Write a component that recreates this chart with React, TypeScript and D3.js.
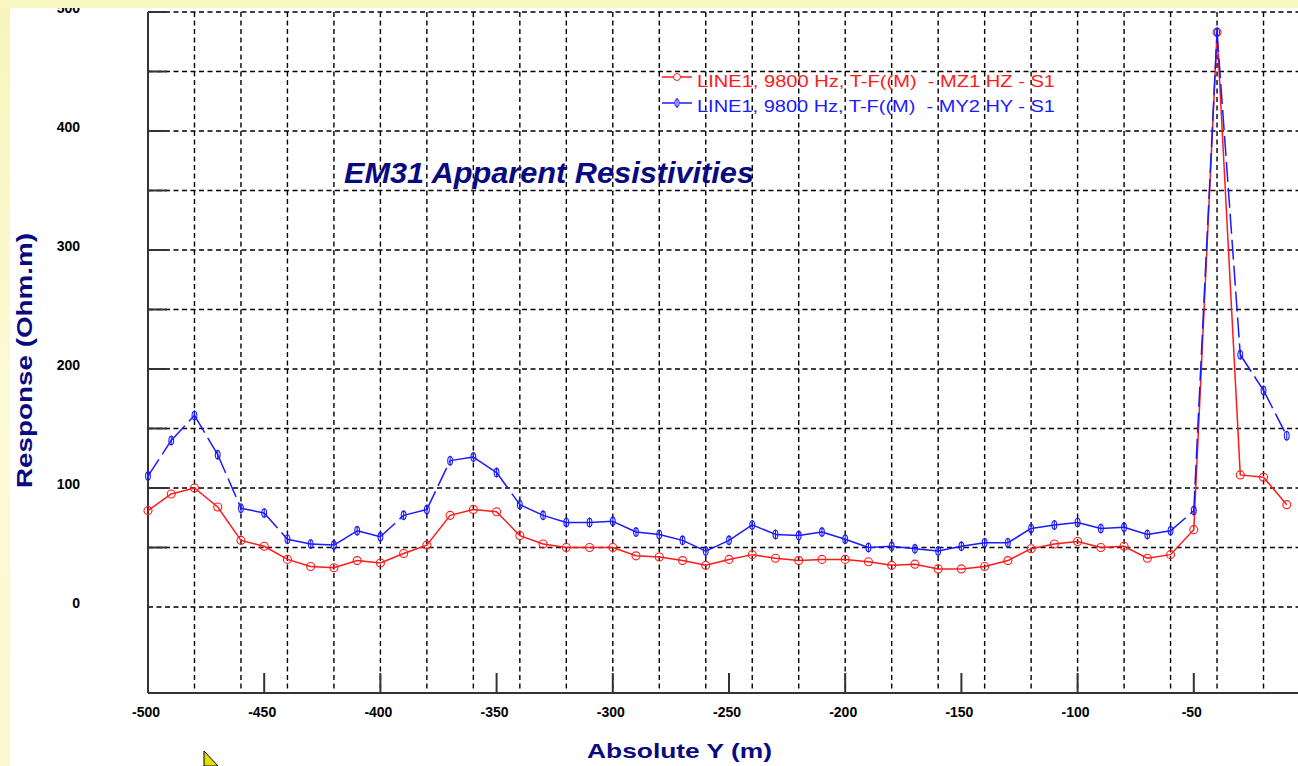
import React from 'react';
import * as d3 from 'd3';

const xValues = [-500, -490, -480, -470, -460, -450, -440, -430, -420, -410, -400, -390, -380, -370, -360, -350, -340, -330, -320, -310, -300, -290, -280, -270, -260, -250, -240, -230, -220, -210, -200, -190, -180, -170, -160, -150, -140, -130, -120, -110, -100, -90, -80, -70, -60, -50, -40, -30, -20, -10];
const mz1Values = [81, 95, 100, 84, 56, 51, 40, 34, 33, 39, 37, 45, 52, 77, 82, 80, 60, 53, 50, 50, 50, 43, 42, 39, 35, 40, 44, 41, 39, 40, 40, 38, 35, 36, 32, 32, 34, 39, 49, 53, 55, 50, 51, 41, 44, 65, 483, 111, 109, 86];
const my2Values = [110, 140, 161, 128, 83, 79, 57, 53, 52, 64, 59, 77, 82, 123, 126, 113, 86, 77, 71, 71, 72, 63, 61, 56, 47, 56, 69, 61, 60, 63, 57, 50, 51, 49, 47, 51, 54, 54, 66, 69, 71, 66, 67, 61, 64, 81, 483, 212, 182, 144];
const xTickLabels = [-500, -450, -400, -350, -300, -250, -200, -150, -100, -50];
const yTickLabels = [0, 100, 200, 300, 400, 500];
const legendLabels = ['LINE1, 9800 Hz, T-F((M)  - MZ1 HZ - S1', 'LINE1, 9800 Hz, T-F((M)  - MY2 HY - S1'];
const titleText = 'EM31 Apparent Resistivities';
const xTitle = 'Absolute Y (m)';
const yTitle = 'Response (Ohm.m)';

const RED = '#ff1a1a';
const BLUE = '#1a1aff';
const NAVY = '#0a0a80';

export default function App() {
  const W = 1298, H = 766;
  const plotLeft = 148, plotBottom = 693, plotTop = 12;
  const x = d3.scaleLinear().domain([-500, 0]).range([148, 1310]);
  const y = d3.scaleLinear().domain([0, 500]).range([607, 12]);

  const vGrid = x.ticks(20).filter(v => v > -500);
  const hGrid = y.ticks(10);

  const redPts = xValues.map((xv, i) => [x(xv), y(mz1Values[i])] as [number, number]);
  const bluePts = xValues.map((xv, i) => [x(xv), y(my2Values[i])] as [number, number]);
  const line = d3.line<[number, number]>();

  const font = 'Arial, "Liberation Sans", sans-serif';

  return (
    <svg width={W} height={H} style={{ position: 'absolute', left: 0, top: 0, background: '#fff' }}>
      <defs>
        <linearGradient id="strip" x1="0" y1="0" x2="0" y2="1">
          <stop offset="0" stopColor="#f8f5bb" />
          <stop offset="0.5" stopColor="#fbfad6" />
          <stop offset="1" stopColor="#fbf9cf" />
        </linearGradient>
      </defs>
      <rect x={0} y={0} width={W} height={H} fill="#fff" />

      {/* grid */}
      {hGrid.map(v => (
        <line key={'h' + v} x1={plotLeft} x2={W} y1={y(v)} y2={y(v)} stroke="#000" strokeWidth={1.4} strokeDasharray="5,3.5" />
      ))}
      {vGrid.map(v => (
        <line key={'v' + v} x1={x(v)} x2={x(v)} y1={plotTop} y2={plotBottom} stroke="#000" strokeWidth={1.4} strokeDasharray="5,3.5" />
      ))}

      {/* axes */}
      <line x1={plotLeft} x2={plotLeft} y1={plotTop} y2={plotBottom} stroke="#333" strokeWidth={2} />
      <line x1={plotLeft} x2={W} y1={plotBottom} y2={plotBottom} stroke="#333" strokeWidth={2} />
      {hGrid.filter(v => v > 0).map(v => (
        <line key={'yt' + v} x1={plotLeft} x2={plotLeft + 19} y1={y(v)} y2={y(v)} stroke="#333" strokeWidth={2} />
      ))}
      {xTickLabels.map(v => (
        <line key={'xt' + v} x1={x(v)} x2={x(v)} y1={plotBottom - 20} y2={plotBottom} stroke="#333" strokeWidth={2} />
      ))}

      {/* tick labels */}
      {yTickLabels.map(v => (
        <text key={'yl' + v} x={80} y={y(v) + 1} textAnchor="end" fontFamily={font} fontWeight="bold" fontSize={14} fill="#000">{v}</text>
      ))}
      {xTickLabels.map(v => (
        <text key={'xl' + v} x={x(v) - 2} y={717} textAnchor="middle" fontFamily={font} fontWeight="bold" fontSize={14} fill="#000">{v}</text>
      ))}

      {/* series */}
      <path d={line(redPts) || ''} fill="none" stroke={RED} strokeWidth={1.5} />
      {redPts.map((p, i) => (
        <circle key={'rm' + i} cx={p[0]} cy={p[1]} r={4} fill="none" stroke={RED} strokeWidth={1.1} />
      ))}
      {bluePts.slice(1).map((p, i) => {
        const a = bluePts[i];
        const len = Math.hypot(p[0] - a[0], p[1] - a[1]);
        return (
          <line key={'bs' + i} x1={a[0]} y1={a[1]} x2={p[0]} y2={p[1]} stroke={BLUE} strokeWidth={1.5}
            strokeDasharray={len > 30 ? '20,6' : undefined} />
        );
      })}
      {bluePts.map((p, i) => (
        <g key={'bm' + i}>
          <ellipse cx={p[0]} cy={p[1]} rx={2.4} ry={4.2} fill="none" stroke={BLUE} strokeWidth={1.1} />
          <line x1={p[0]} x2={p[0]} y1={p[1] - 5} y2={p[1] + 5} stroke={BLUE} strokeWidth={1.1} />
        </g>
      ))}

      {/* legend */}
      <line x1={662} x2={692} y1={77} y2={77} stroke={RED} strokeWidth={1.5} />
      <circle cx={677} cy={77} r={3.5} fill="#fff" stroke={RED} strokeWidth={1} />
      <text x={697} y={87} fontFamily={font} fontSize={17} fill={RED} textLength={358} lengthAdjust="spacingAndGlyphs" style={{ whiteSpace: 'pre' }}>{legendLabels[0]}</text>
      <line x1={662} x2={692} y1={103} y2={103} stroke={BLUE} strokeWidth={1.5} />
      <ellipse cx={677} cy={103} rx={2.2} ry={4} fill="#fff" stroke={BLUE} strokeWidth={1} />
      <line x1={677} x2={677} y1={98} y2={108} stroke={BLUE} strokeWidth={1} />
      <text x={697} y={112} fontFamily={font} fontSize={17} fill={BLUE} textLength={358} lengthAdjust="spacingAndGlyphs" style={{ whiteSpace: 'pre' }}>{legendLabels[1]}</text>

      {/* titles */}
      <text x={344} y={183} fontFamily={font} fontWeight="bold" fontStyle="italic" fontSize={29} fill={NAVY} textLength={410} lengthAdjust="spacingAndGlyphs">{titleText}</text>
      <text x={587} y={758} fontFamily={font} fontWeight="bold" fontSize={21} fill={NAVY} textLength={185} lengthAdjust="spacingAndGlyphs">{xTitle}</text>
      <text transform="translate(32,488) rotate(-90)" x={0} y={0} fontFamily={font} fontWeight="bold" fontSize={22} fill={NAVY} textLength={255} lengthAdjust="spacingAndGlyphs">{yTitle}</text>

      {/* background frame strips */}
      <rect x={0} y={0} width={W} height={8} fill="#f9f7c2" />
      <rect x={0} y={8} width={10} height={H - 8} fill="url(#strip)" />

      {/* cursor */}
      <path d="M204,751 L204,766 L218,766 Z" fill="#e6dc00" stroke="#000" strokeWidth={1} />
    </svg>
  );
}
